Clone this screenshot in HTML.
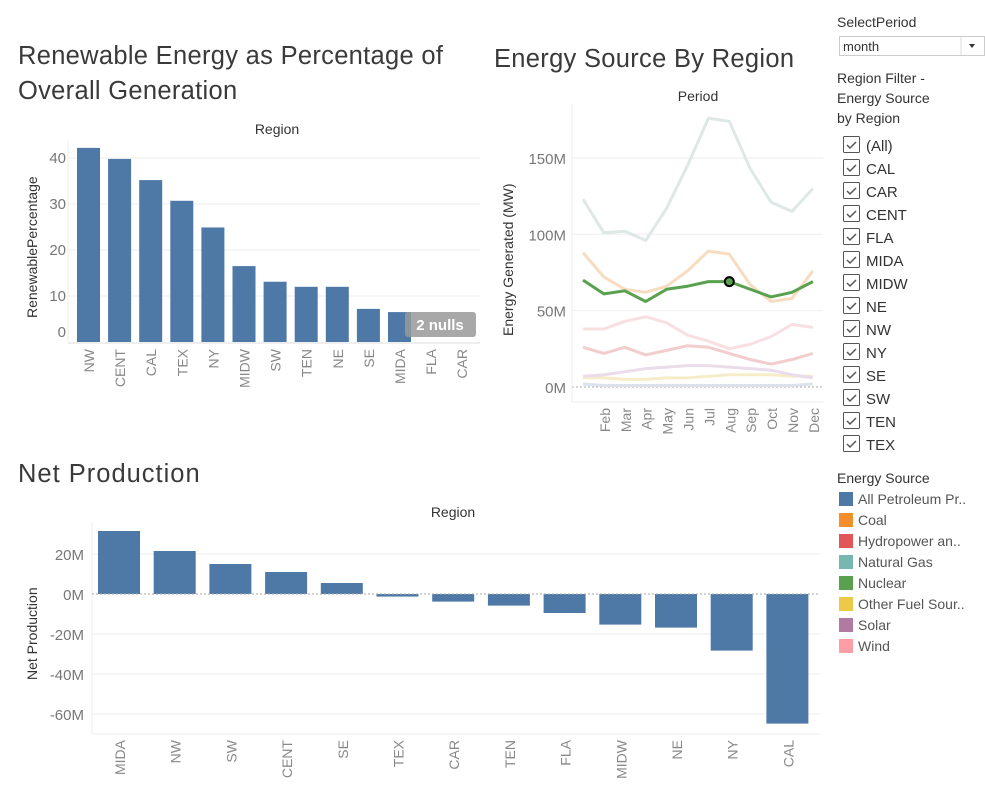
<!DOCTYPE html>
<html><head><meta charset="utf-8"><style>
body{margin:0;background:#fff;font-family:"Liberation Sans","DejaVu Sans",sans-serif}
svg text{font-family:"Liberation Sans","DejaVu Sans",sans-serif}
.ttl{font-size:25.5px;fill:#3a3a3a;letter-spacing:0.3px}
</style></head><body>
<svg id="s" width="985" height="791" xmlns="http://www.w3.org/2000/svg">
<text class="ttl" x="18" y="64">Renewable Energy as Percentage of</text>
<text class="ttl" x="18" y="99">Overall Generation</text>
<text class="ttl" x="494" y="67">Energy Source By Region</text>
<text class="ttl" x="18" y="482" style="letter-spacing:1px">Net Production</text>
<g id="top"></g><g id="line"></g><g id="bot"></g><g id="side"></g>
</svg>
<script>
// ---- Renewable chart data
const renCats=["NW","CENT","CAL","TEX","NY","MIDW","SW","TEN","NE","SE","MIDA","FLA","CAR"];
const renVals=[42.2,39.8,35.2,30.7,24.9,16.5,13.1,12,12,7.2,6.5,null,null];
const renTicks=[0,10,20,30,40];
// ---- Line chart data
const months=["Jan","Feb","Mar","Apr","May","Jun","Jul","Aug","Sep","Oct","Nov","Dec"];
const lineTicks=[0,50,100,150];
const natGas=[123,101,102,96,117,145,176,174,143,121,115,130];
const coal=[88,72,64,62,66,76,89,87,67,56,58,76];
const nuclear=[70,61,63,56,64,66,69,69,64,59,62,69];
const wind=[38,38,43,46,42,34,30,25,28,33,41,39];
const hydro=[26,22,26,21,24,27,26,22,18,15,18,22];
const solar=[7,8,10,12,13,14,14,13,12,11,8,6];
const otherFuel=[6,6,5,5,6,6,7,8,8,8,7,7];
const petroleum=[2,1,1,1,1,1,1,1,1,1,1,2];
// ---- Net production data
const netCats=["MIDA","NW","SW","CENT","SE","TEX","CAR","TEN","FLA","MIDW","NE","NY","CAL"];
const netVals=[31.5,21.5,15,11,5.5,-1.3,-3.8,-5.8,-9.5,-15.3,-16.8,-28.3,-64.8];
const netTicks=[20,0,-20,-40,-60];
const regions=["(All)","CAL","CAR","CENT","FLA","MIDA","MIDW","NE","NW","NY","SE","SW","TEN","TEX"];
const sources=["All Petroleum Pr..","Coal","Hydropower an..","Natural Gas","Nuclear","Other Fuel Sour..","Solar","Wind"];
const srcColors=["#4e79a7","#f28e2b","#e15759","#76b7b2","#59a14f","#edc948","#b07aa1","#ff9da7"];

const NS="http://www.w3.org/2000/svg";
function mk(p,t,a,txt){const e=document.createElementNS(NS,t);for(const k in a)e.setAttribute(k,a[k]);if(txt!=null)e.textContent=txt;p.appendChild(e);return e;}
const BLUE="#4e79a7";

// ---- Top bar chart
(function(){
const g=document.getElementById('top');
const y=v=>342-v*4.6, x0=68, step=31.1, bx=i=>77+i*step;
mk(g,'text',{x:277,y:134,'font-size':14,fill:'#333','text-anchor':'middle'},"Region");
for(const t of renTicks){
 if(t>0){mk(g,'line',{x1:x0,x2:480,y1:y(t),y2:y(t),stroke:'#eee'});}
 const tt=mk(g,'text',{x:66,y:(t===0?337:y(t)+5),'font-size':15,fill:'#777','text-anchor':'end'},t);
 
 
}
mk(g,'line',{x1:x0,x2:480,y1:343,y2:343,stroke:'#ddd'});
mk(g,'line',{x1:x0,x2:x0,y1:140,y2:343,stroke:'#eee'});
const yt=mk(g,'text',{transform:'translate(37,318) rotate(-90)','font-size':14,fill:'#333'},"RenewablePercentage");


renCats.forEach((c,i)=>{
 const v=renVals[i];
 if(v!=null){const r=mk(g,'rect',{x:bx(i),y:y(v),width:23,height:342-y(v),fill:BLUE});
  
  }
 const t=mk(g,'text',{transform:`translate(${bx(i)+17},349) rotate(-90)`,'font-size':14,fill:'#888','text-anchor':'end'},c);
 
 
});
const nb=mk(g,'rect',{x:405,y:312,width:71,height:25,rx:3,fill:'#999',opacity:0.85});


mk(g,'text',{x:440,y:330,'font-size':15,'font-weight':'bold',fill:'#fff','text-anchor':'middle'},"2 nulls");
})();

// ---- Line chart
(function(){
const g=document.getElementById('line');
const y=v=>387-v*1.527, x=i=>583+i*20.9;
mk(g,'text',{x:698,y:101,'font-size':14,fill:'#333','text-anchor':'middle'},"Period");
for(const t of lineTicks){
 if(t>0)mk(g,'line',{x1:572,x2:823,y1:y(t),y2:y(t),stroke:'#eee'});
 const tt=mk(g,'text',{x:566,y:y(t)+6,'font-size':15,fill:'#777','text-anchor':'end'},t+"M");
 
 
}
mk(g,'line',{x1:572,x2:823,y1:387,y2:387,stroke:'#aaa','stroke-dasharray':'2,2'});
mk(g,'line',{x1:572,x2:572,y1:104,y2:402,stroke:'#eee'});
mk(g,'line',{x1:572,x2:823,y1:402,y2:402,stroke:'#eee'});
const yt=mk(g,'text',{transform:'translate(513,336) rotate(-90)','font-size':14,fill:'#333'},"Energy Generated (MW)");


months.forEach((m,i)=>{ if(i===0)return;
 const t=mk(g,'text',{transform:`translate(${x(i)+6},408) rotate(-90)`,'font-size':14,fill:'#888','text-anchor':'end'},m);
 
 
});
const series=[[petroleum,'#dde3ec','petroleum'],[otherFuel,'#f6edc8','other-fuel'],[solar,'#eadcea','solar'],[hydro,'#f1cdcd','hydropower'],[wind,'#f8dfe2','wind'],[coal,'#f7dcc0','coal'],[natGas,'#dde8e7','natural-gas'],[nuclear,'#59a14f','nuclear']];
for(const [d,c,n] of series){
 const p=mk(g,'polyline',{points:d.map((v,i)=>x(i)+','+y(v)).join(' '),fill:'none',stroke:c,'stroke-width':3,'stroke-linejoin':'round'});
 
 
}
const mkr=mk(g,'circle',{cx:x(7),cy:y(nuclear[7]),r:4.5,fill:'#59a14f',stroke:'#000','stroke-width':2});


})();

// ---- Net production
(function(){
const g=document.getElementById('bot');
const y=v=>594-v*2, bx=i=>98+i*55.7;
mk(g,'text',{x:453,y:517,'font-size':14,fill:'#333','text-anchor':'middle'},"Region");
for(const t of netTicks){
 if(t!==0)mk(g,'line',{x1:92,x2:820,y1:y(t),y2:y(t),stroke:'#eee'});
 const tt=mk(g,'text',{x:84,y:y(t)+6,'font-size':15,fill:'#777','text-anchor':'end'},t+"M");
 
 
}
mk(g,'line',{x1:92,x2:92,y1:522,y2:734,stroke:'#eee'});
mk(g,'line',{x1:92,x2:820,y1:734,y2:734,stroke:'#eee'});
const yt=mk(g,'text',{transform:'translate(37,680) rotate(-90)','font-size':14,fill:'#333'},"Net Production");


netCats.forEach((c,i)=>{
 const v=netVals[i];
 const r=mk(g,'rect',{x:bx(i),y:Math.min(y(v),y(0)),width:42,height:Math.abs(y(v)-y(0)),fill:BLUE});
 
 
 const t=mk(g,'text',{transform:`translate(${bx(i)+27},740) rotate(-90)`,'font-size':14,fill:'#888','text-anchor':'end'},c);
 
 
});
mk(g,'line',{x1:92,x2:820,y1:594,y2:594,stroke:'#aaa','stroke-dasharray':'2,2'});
})();

// ---- Sidebar
(function(){
const g=document.getElementById('side');
mk(g,'text',{x:837,y:27,'font-size':14,fill:'#333'},"SelectPeriod");
const dd=mk(g,'rect',{x:839.5,y:36.5,width:145,height:19,fill:'#fff',stroke:'#ccc'});


mk(g,'text',{x:843,y:51,'font-size':13,fill:'#333'},"month");
mk(g,'line',{x1:961,x2:961,y1:37,y2:55,stroke:'#ddd'});
mk(g,'path',{d:'M969 44 l6 0 l-3 4 z',fill:'#333'});
["Region Filter -","Energy Source","by Region"].forEach((s,i)=>mk(g,'text',{x:837,y:83+i*20,'font-size':14,fill:'#333'},s));
regions.forEach((r,i)=>{
 const cy=145+i*23;
 const b=mk(g,'rect',{x:843.5,y:cy-8.5,width:16,height:16,fill:'#fff',stroke:'#555',rx:1});
 
 
 mk(g,'path',{d:`M847 ${cy} l3 3 l6 -6`,fill:'none',stroke:'#555','stroke-width':1.5});
 mk(g,'text',{x:866,y:cy+6,'font-size':15,fill:'#333'},r);
});
mk(g,'text',{x:837,y:483,'font-size':14,fill:'#333'},"Energy Source");
sources.forEach((s,i)=>{
 const cy=499+i*21;
 const sw=mk(g,'rect',{x:839,y:cy-7,width:14,height:14,fill:srcColors[i]});
 
 
 mk(g,'text',{x:858,y:cy+5,'font-size':14,fill:'#555'},s);
});
})();
</script>
</body></html>
